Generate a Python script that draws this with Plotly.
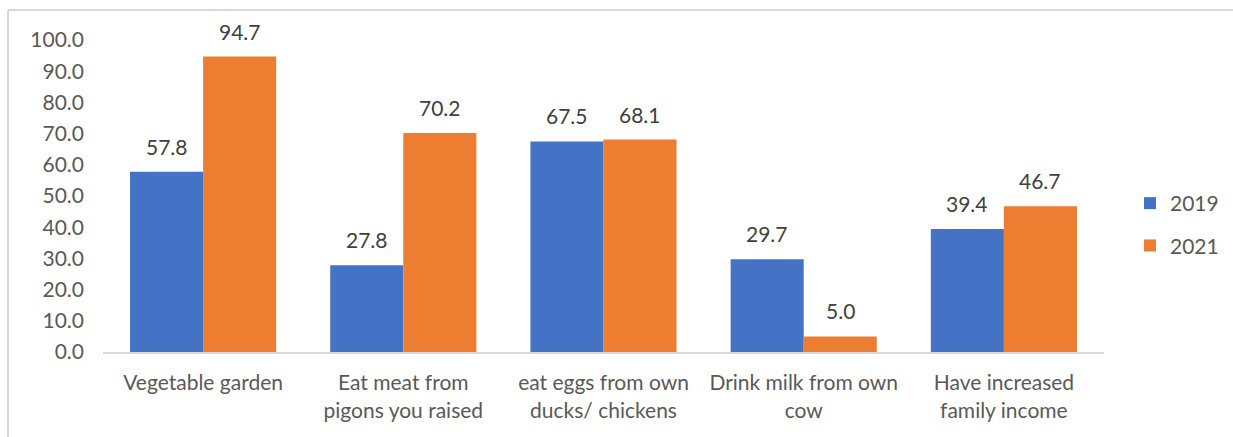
import plotly.graph_objects as go

categories = [
    "Vegetable garden",
    "Eat meat from<br>pigons you raised",
    "eat eggs from own<br>ducks/ chickens",
    "Drink milk from own<br>cow",
    "Have increased<br>family income",
]
values_2019 = [57.8, 27.8, 67.5, 29.7, 39.4]
values_2021 = [94.7, 70.2, 68.1, 5.0, 46.7]
tick_values = [0, 10, 20, 30, 40, 50, 60, 70, 80, 90, 100]

BLUE = "#4472C4"
ORANGE = "#ED7D31"
TEXT = "#595959"
FONT = "Lato"
FS = 21

W, H = 1233, 437
M_L, M_R, M_T, M_B = 103, 129, 40, 85
plot_w = W - M_L - M_R
plot_h = H - M_T - M_B
bargap = 0.27
bar_px = plot_w / len(categories) * (1 - bargap) / 2

fig = go.Figure()
fig.add_trace(go.Bar(name="2019", x=categories, y=values_2019,
                     marker=dict(color=BLUE, line=dict(width=0)),
                     legendgroup="a"))
fig.add_trace(go.Bar(name="2021", x=categories, y=values_2021,
                     marker=dict(color=ORANGE, line=dict(width=0)),
                     legendgroup="b"))

# value labels above each bar
for vals, shift in ((values_2019, -bar_px / 2), (values_2021, bar_px / 2)):
    for c, v in zip(categories, vals):
        fig.add_annotation(x=c, y=v, text=f"{v:.1f}", showarrow=False,
                           xshift=shift, yshift=11, yanchor="bottom",
                           font=dict(family=FONT, size=FS, color="#404040"))

# chart frame (top and left edges)
px_x = lambda p: (p - M_L) / plot_w
px_y = lambda p: (H - M_B - p) / plot_h
frame = dict(color="#D9D9D9", width=2)
fig.add_shape(type="line", xref="paper", yref="paper",
              x0=px_x(8), x1=px_x(W + 5), y0=px_y(10), y1=px_y(10), line=frame)
fig.add_shape(type="line", xref="paper", yref="paper",
              x0=px_x(8), x1=px_x(8), y0=px_y(10), y1=px_y(H + 5), line=frame)

fig.update_layout(
    width=W, height=H,
    margin=dict(l=M_L, r=M_R, t=M_T, b=M_B, autoexpand=False),
    paper_bgcolor="white", plot_bgcolor="white",
    barmode="group", bargap=bargap, bargroupgap=0,
    font=dict(family=FONT, size=FS, color=TEXT),
    showlegend=True,
    legend=dict(x=px_x(1130), y=px_y(183), xanchor="left", yanchor="top",
                font=dict(family=FONT, size=FS, color=TEXT),
                tracegroupgap=12, itemwidth=30, bgcolor="rgba(0,0,0,0)"),
    xaxis=dict(showline=True, linecolor="#D9D9D9", linewidth=2,
               ticks="", showgrid=False, ticklabelstandoff=11,
               tickfont=dict(family=FONT, size=FS, color=TEXT)),
    yaxis=dict(range=[0, 100], tickvals=tick_values, tickformat=".1f",
               showgrid=False, zeroline=False, showline=False, ticks="",
               ticklabelstandoff=18,
               tickfont=dict(family=FONT, size=FS, color=TEXT)),
)

fig.write_html("out.html")
